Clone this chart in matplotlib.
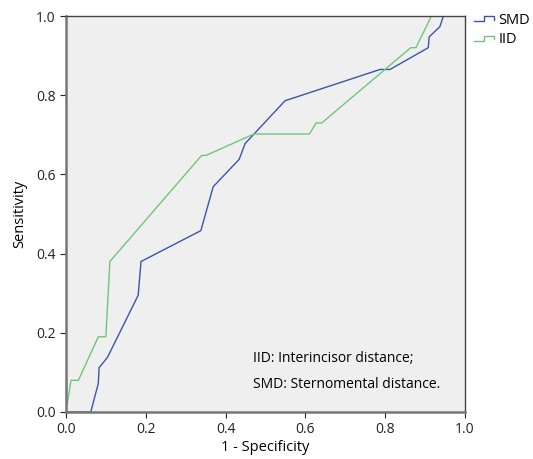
import matplotlib
matplotlib.use("Agg")
import matplotlib.pyplot as plt
from matplotlib.lines import Line2D
from matplotlib.legend_handler import HandlerLine2D

plt.rcParams['font.family'] = ['Open Sans', 'DejaVu Sans']

# ROC curve points (1 - specificity, sensitivity)
smd_x = [0.0, 0.062, 0.081, 0.083, 0.104, 0.181, 0.188, 0.338, 0.369, 0.434,
         0.449, 0.549, 0.787, 0.812, 0.908, 0.910, 0.937, 0.946, 1.0]
smd_y = [0.0, 0.0, 0.072, 0.112, 0.138, 0.295, 0.38, 0.458, 0.569, 0.638,
         0.678, 0.786, 0.865, 0.865, 0.92, 0.947, 0.973, 1.0, 1.0]

iid_x = [0.0, 0.0125, 0.031, 0.081, 0.10, 0.11, 0.34, 0.351, 0.471, 0.61,
         0.627, 0.641, 0.864, 0.877, 0.916, 1.0]
iid_y = [0.0, 0.08, 0.08, 0.19, 0.19, 0.38, 0.648, 0.648, 0.702, 0.702,
         0.73, 0.73, 0.92, 0.92, 1.0, 1.0]

ticks = [0.0, 0.2, 0.4, 0.6, 0.8, 1.0]
blue = '#3a55ad'
green = '#72c47a'


class StepHandler(HandlerLine2D):
    # draws the small step glyph used in the legend
    def create_artists(self, legend, orig_handle, xdescent, ydescent,
                       width, height, fontsize, trans):
        x0, x1 = -xdescent, -xdescent + width
        xm = x0 + width * 0.5
        ylo = -ydescent + height * 0.25
        yhi = -ydescent + height * 0.75
        line = Line2D([x0, xm, xm, x1, x1], [ylo, ylo, yhi, yhi, ylo * 1.6],
                      color=orig_handle.get_color(), lw=1.0)
        line.set_transform(trans)
        return [line]


fig = plt.figure(figsize=(5.33, 4.59), dpi=100)
ax = fig.add_axes([0.1238, 0.1024, 0.7486, 0.8627])
ax.set_facecolor('#efefef')

l1, = ax.plot(smd_x, smd_y, color=blue, lw=1.0, label='SMD')
l2, = ax.plot(iid_x, iid_y, color=green, lw=1.0, label='IID')

ax.set_xlim(0, 1)
ax.set_ylim(0, 1)
ax.set_xticks(ticks)
ax.set_yticks(ticks)
ax.set_xticklabels([f'{t:.1f}' for t in ticks])
ax.set_yticklabels([f'{t:.1f}' for t in ticks])
ax.tick_params(direction='out', length=4, width=0.8, labelsize=10, colors='#222222')

for s in ['top', 'right']:
    ax.spines[s].set_color('#444444')
    ax.spines[s].set_linewidth(1.0)
for s in ['left', 'bottom']:
    ax.spines[s].set_color('#777777')
    ax.spines[s].set_linewidth(1.8)

ax.set_xlabel('1 - Specificity', fontsize=10.5, labelpad=2)
ax.set_ylabel('Sensitivity', fontsize=10.5, labelpad=6)

ax.text(0.468, 0.135, 'IID: Interincisor distance;', transform=ax.transAxes,
        fontsize=10, va='center')
ax.text(0.468, 0.07, 'SMD: Sternomental distance.', transform=ax.transAxes,
        fontsize=10, va='center')

ax.legend(handles=[l1, l2], loc='upper left', bbox_to_anchor=(1.0, 1.03),
          frameon=False, fontsize=10.5, handlelength=1.4, handletextpad=0.3,
          labelspacing=0.3, borderaxespad=0.2,
          handler_map={Line2D: StepHandler()})

fig.savefig('out.png', dpi=100)
